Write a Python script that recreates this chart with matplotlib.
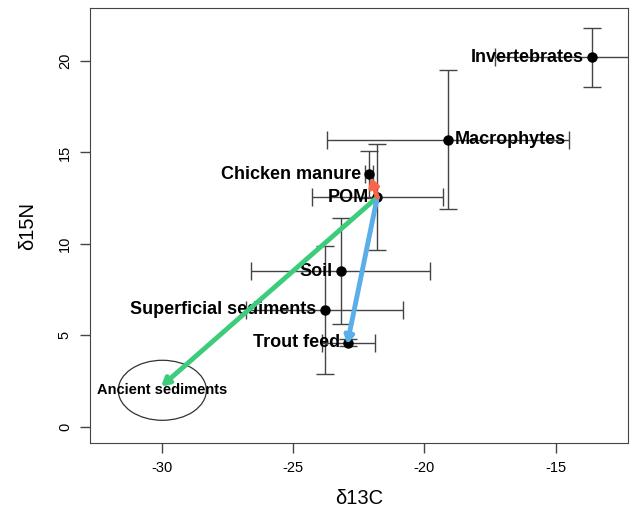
import matplotlib.pyplot as plt
from matplotlib.patches import Ellipse

plt.rcParams['font.family'] = ['Liberation Sans', 'DejaVu Sans']
plt.rcParams['axes.unicode_minus'] = False

# source means and SDs
sources = ["Invertebrates", "Macrophytes", "Chicken manure", "POM",
           "Soil", "Superficial sediments", "Trout feed"]
d13c = [-13.6, -19.1, -22.1, -21.8, -23.2, -23.8, -22.9]
d15n = [20.2, 15.7, 13.8, 12.55, 8.5, 6.4, 4.6]
sd13c = [3.7, 4.6, 0.15, 2.5, 3.4, 3.0, 1.0]
sd15n = [1.6, 3.8, 1.3, 2.9, 2.9, 3.5, 0.2]
label_side = ["left", "right", "left", "left", "left", "left", "left"]

# ancient sediments
anc_x, anc_y = -30.0, 2.0
anc_w, anc_h = 3.36, 3.28

# arrows from POM
arrow_to_x = [-30.05, -22.95, -22.05]
arrow_to_y = [2.2, 4.5, 13.65]
arrow_colors = ["#3ccc7c", "#5aaeea", "#fa6448"]

fig = plt.figure(figsize=(6.31, 5.16), dpi=100)
ax = fig.add_axes([0.1426, 0.1415, 0.8524, 0.8425])

ax.errorbar(d13c, d15n, xerr=sd13c, yerr=sd15n, fmt='o', color='black',
            ecolor='#444444', elinewidth=1, capsize=6.5, capthick=1,
            markersize=6.5, zorder=3)

for name, x, y, side in zip(sources, d13c, d15n, label_side):
    if side == "left":
        ax.annotate(name, (x, y), xytext=(-6, 0), textcoords='offset points',
                    ha='right', va='center', fontsize=13, fontweight='bold', zorder=4)
    else:
        ax.annotate(name, (x, y), xytext=(5, 0), textcoords='offset points',
                    ha='left', va='center', fontsize=13, fontweight='bold', zorder=4)

pom = sources.index("POM")
for tx, ty, c in zip(arrow_to_x, arrow_to_y, arrow_colors):
    ax.annotate("", xy=(tx, ty), xytext=(d13c[pom], d15n[pom]),
                arrowprops=dict(arrowstyle='->,head_length=0.45,head_width=0.25',
                                lw=3.5, color=c, shrinkA=0, shrinkB=0),
                zorder=5)

ax.add_patch(Ellipse((anc_x, anc_y), anc_w, anc_h, fill=False,
                     edgecolor='#333333', lw=0.9))
ax.text(anc_x, anc_y, "Ancient sediments", ha='center', va='center',
        fontsize=10.5, fontweight='bold', zorder=6)

ax.set_xlim(-32.76, -12.24)
ax.set_ylim(-0.88, 22.88)
ax.set_xticks([-30, -25, -20, -15])
ax.set_yticks([0, 5, 10, 15, 20])
ax.tick_params(labelsize=10.5, length=7, width=1, color='#444444', pad=6)
for lbl in ax.get_yticklabels():
    lbl.set_rotation(90)
    lbl.set_va('center')
for s in ax.spines.values():
    s.set_color('#444444')
ax.set_xlabel("δ13C", fontsize=14.5, labelpad=10)
ax.set_ylabel("δ15N", fontsize=14.5, labelpad=15)

fig.savefig("out.png", dpi=100)
